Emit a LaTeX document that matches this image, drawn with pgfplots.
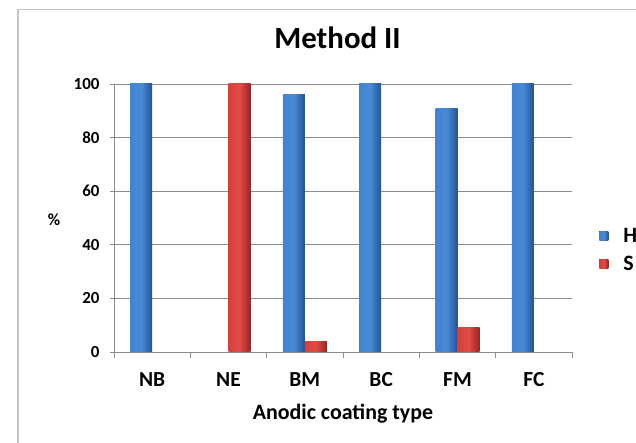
\documentclass[border=0pt]{standalone}
\usepackage{fontspec}
\setmainfont{Carlito}
\usepackage{pgfplots}
\pgfplotsset{compat=1.18}
\definecolor{framegray}{RGB}{195,195,195}
\definecolor{gridgray}{RGB}{140,140,140}
\definecolor{blueL}{RGB}{70,130,205}
\definecolor{blueM}{RGB}{72,138,215}
\definecolor{blueR}{RGB}{35,82,150}
\definecolor{redL}{RGB}{210,65,60}
\definecolor{redM}{RGB}{225,75,70}
\definecolor{redR}{RGB}{155,35,35}
\pgfplotsset{
  Hbar/.style={draw=none, bar shift=-11bp, left color=blueL, right color=blueR, middle color=blueM},
  Sbar/.style={draw=none, bar shift=11bp, left color=redL, right color=redR, middle color=redM},
}
\begin{document}
\begin{tikzpicture}
\useasboundingbox (0,0) rectangle (636bp,443bp);
\clip (0,0) rectangle (636bp,443bp);
\fill[white] (0,0) rectangle (636bp,443bp);
\draw[framegray, line width=1.3bp] (18bp,-20bp) rectangle (680bp,433.5bp);
\begin{axis}[
  at={(114bp,91bp)}, anchor=south west,
  scale only axis, width=458bp, height=268bp,
  ybar=0pt, bar width=22bp,
  xmin=-0.5, xmax=5.5, ymin=0, ymax=100,
  xtick={0,1,2,3,4,5},
  xticklabels={NB,NE,BM,BC,FM,FC},
  minor xtick={-0.5,0.5,1.5,2.5,3.5,4.5,5.5},
  ytick={0,20,40,60,80,100},
  ymajorgrids, grid style={gridgray, line width=0.8bp},
  axis x line*=bottom, axis y line*=left,
  axis line style={gridgray, line width=0.8bp, -},
  tick align=outside,
  major x tick style={draw=none},
  minor x tick style={gridgray, line width=0.8bp},
  major y tick style={gridgray, line width=0.8bp},
  major tick length=4bp, minor tick length=6bp,
  /pgf/number format/assume math mode=true,
  yticklabel style={font=\bfseries\fontsize{17}{17}\selectfont, anchor=east, xshift=-7bp},
  xticklabel style={font=\bfseries\fontsize{21.5}{21.5}\selectfont, anchor=base, yshift=-30bp},
  title={Method II},
  title style={font=\bfseries\fontsize{31}{31}\selectfont, at={(rel axis cs:0.488,1.112)}, anchor=base},
  xlabel={Anodic coating type},
  xlabel style={font=\bfseries\fontsize{22}{22}\selectfont, at={(rel axis cs:0.5,-0.25)}, anchor=base},
  ylabel={\%},
  ylabel style={font=\bfseries\fontsize{17}{17}\selectfont, rotate=-90, at={(rel axis cs:-0.131,0.4925)}, anchor=center},
  legend style={at={(rel axis cs:1.053,0.383)}, anchor=west, draw=none, fill=none,
    font=\bfseries\fontsize{22}{22}\selectfont, row sep=14bp,
    nodes={inner sep=0pt, text height=14bp, text depth=0bp},
    /tikz/every odd column/.append style={column sep=15bp}},
  legend cell align=left,
  legend image code/.code={\fill[#1] (0bp,-5bp) rectangle (9bp,4bp);},
]
% H series
\addplot[Hbar] coordinates {(0,100)};
% S series
\addplot[Sbar] coordinates {(1,100)};
\addplot[Hbar, forget plot] coordinates {(2,96)};
\addplot[Hbar, forget plot] coordinates {(3,100)};
\addplot[Hbar, forget plot] coordinates {(4,91)};
\addplot[Hbar, forget plot] coordinates {(5,100)};
\addplot[Sbar, forget plot] coordinates {(2,4)};
\addplot[Sbar, forget plot] coordinates {(4,9)};
\legend{H,S}
\end{axis}
\end{tikzpicture}
\end{document}
